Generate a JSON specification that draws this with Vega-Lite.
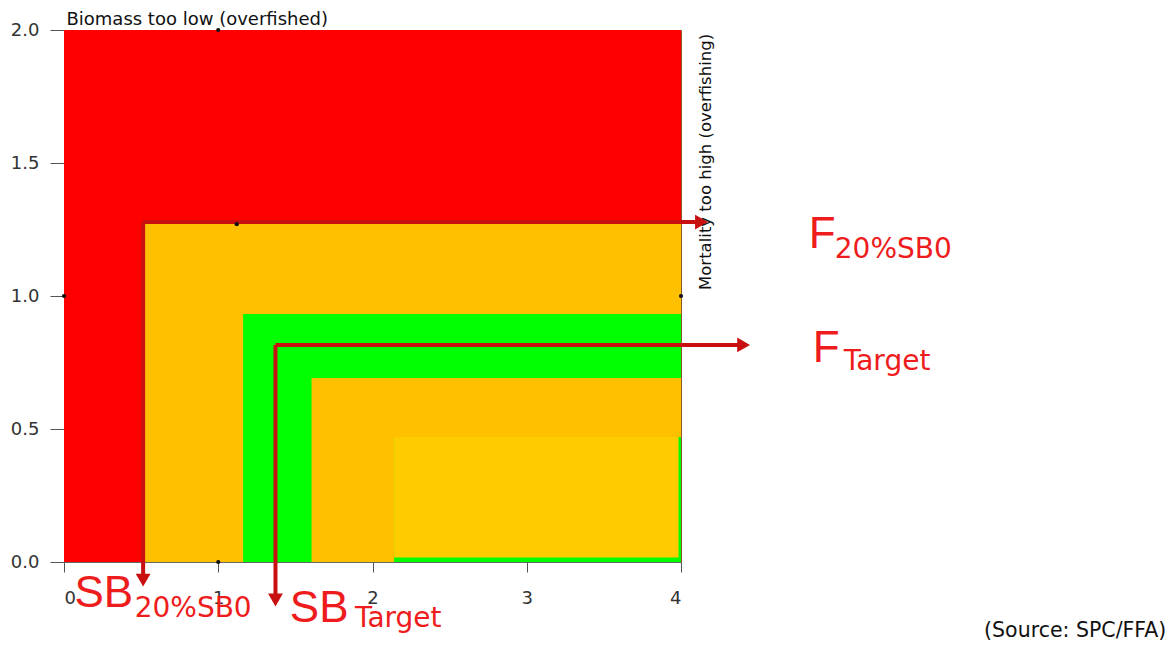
{
  "$schema": "https://vega.github.io/schema/vega-lite/v6.json",
  "width": 617,
  "height": 532,
  "autosize": "none",
  "padding": {"left": 64, "top": 30, "right": 491, "bottom": 83},
  "background": "white",
  "config": {
    "view": {"stroke": "#8b5a2b", "strokeWidth": 1},
    "axis": {"grid": false, "labelFont": "DejaVu Sans", "labelFontSize": 18, "labelColor": "#333333", "tickColor": "#555555", "domainColor": "#666666", "title": null}
  },
  "datasets": {
    "zones": [
      {"zone": "red", "i": 1, "x0": 0, "x1": 4, "y0": 0, "y1": 2},
      {"zone": "orange", "i": 2, "x0": 0.513, "x1": 4, "y0": 0, "y1": 1.278},
      {"zone": "green", "i": 3, "x0": 1.161, "x1": 4, "y0": 0, "y1": 0.932},
      {"zone": "orange", "i": 4, "x0": 1.605, "x1": 4, "y0": 0, "y1": 0.692},
      {"zone": "green", "i": 5, "x0": 2.14, "x1": 4, "y0": 0, "y1": 0.47},
      {"zone": "yellow", "i": 6, "x0": 2.14, "x1": 3.984, "y0": 0.017, "y1": 0.47}
    ],
    "arrows": [
      {"x": 0.513, "y": 1.278, "x2": 4.133, "y2": 1.278, "dir": "right"},
      {"x": 0.513, "y": 1.278, "x2": 0.513, "y2": -0.068, "dir": "down"},
      {"x": 1.371, "y": 0.816, "x2": 4.406, "y2": 0.816, "dir": "right"},
      {"x": 1.371, "y": 0.816, "x2": 1.371, "y2": -0.143, "dir": "down"}
    ],
    "dots": [
      {"x": 1, "y": 2},
      {"x": 0, "y": 1},
      {"x": 4, "y": 1},
      {"x": 1, "y": 0},
      {"x": 1.12, "y": 1.27}
    ],
    "big": [
      {"x": 4.828, "y": 1.18, "label": "F"},
      {"x": 4.854, "y": 0.752, "label": "F"},
      {"x": 0.068, "y": -0.169, "label": "SB"},
      {"x": 1.464, "y": -0.226, "label": "SB"}
    ],
    "sub": [
      {"x": 4.997, "y": 1.143, "label": "20%SB0"},
      {"x": 5.055, "y": 0.722, "label": "Target"},
      {"x": 0.458, "y": -0.207, "label": "20%SB0"},
      {"x": 1.886, "y": -0.244, "label": "Target"}
    ],
    "notes": [
      {"x": 0.016, "y": 2.019, "label": "Biomass too low (overfished)"}
    ],
    "side": [
      {"x": 4.16, "y": 1.504, "label": "Mortality too high (overfishing)"}
    ],
    "source": [
      {"x": 7.146, "y": -0.282, "label": "(Source: SPC/FFA)"}
    ]
  },
  "layer": [
    {
      "data": {"name": "zones"},
      "mark": {"type": "rect"},
      "encoding": {
        "x": {"field": "x0", "type": "quantitative", "scale": {"domain": [0, 4], "nice": false}, "axis": {"values": [0, 1, 2, 3, 4], "format": "d", "tickSize": 10, "labelPadding": 17}},
        "x2": {"field": "x1"},
        "y": {"field": "y0", "type": "quantitative", "scale": {"domain": [0, 2], "nice": false}, "axis": {"values": [0, 0.5, 1, 1.5, 2], "format": ".1f", "tickSize": 14, "labelPadding": 11}},
        "y2": {"field": "y1"},
        "color": {"field": "zone", "type": "nominal", "legend": null, "scale": {"domain": ["red", "orange", "green", "yellow"], "range": ["#ff0000", "#ffc000", "#00ff00", "#ffcc00"]}},
        "order": {"field": "i", "type": "quantitative"}
      }
    },
    {
      "data": {"name": "arrows"},
      "mark": {"type": "rule", "color": "#c81010", "strokeWidth": 4},
      "encoding": {
        "x": {"field": "x", "type": "quantitative"},
        "y": {"field": "y", "type": "quantitative"},
        "x2": {"field": "x2"},
        "y2": {"field": "y2"}
      }
    },
    {
      "data": {"name": "arrows"},
      "mark": {"type": "point", "filled": true, "color": "#c81010", "size": 220, "opacity": 1},
      "encoding": {
        "x": {"field": "x2", "type": "quantitative"},
        "y": {"field": "y2", "type": "quantitative"},
        "shape": {"field": "dir", "type": "nominal", "legend": null, "scale": {"domain": ["right", "down"], "range": ["triangle-right", "triangle-down"]}}
      }
    },
    {
      "data": {"name": "dots"},
      "mark": {"type": "point", "filled": true, "color": "#111111", "size": 18, "opacity": 1},
      "encoding": {
        "x": {"field": "x", "type": "quantitative"},
        "y": {"field": "y", "type": "quantitative"}
      }
    },
    {
      "data": {"name": "big"},
      "mark": {"type": "text", "font": "Liberation Sans", "fontSize": 44, "color": "#ee1c1c", "align": "left", "baseline": "alphabetic"},
      "encoding": {
        "x": {"field": "x", "type": "quantitative"},
        "y": {"field": "y", "type": "quantitative"},
        "text": {"field": "label"}
      }
    },
    {
      "data": {"name": "sub"},
      "mark": {"type": "text", "font": "DejaVu Sans", "fontSize": 28, "color": "#ee1c1c", "align": "left", "baseline": "alphabetic"},
      "encoding": {
        "x": {"field": "x", "type": "quantitative"},
        "y": {"field": "y", "type": "quantitative"},
        "text": {"field": "label"}
      }
    },
    {
      "data": {"name": "notes"},
      "mark": {"type": "text", "font": "DejaVu Sans", "fontSize": 18, "color": "#111111", "align": "left", "baseline": "alphabetic"},
      "encoding": {
        "x": {"field": "x", "type": "quantitative"},
        "y": {"field": "y", "type": "quantitative"},
        "text": {"field": "label"}
      }
    },
    {
      "data": {"name": "side"},
      "mark": {"type": "text", "font": "DejaVu Sans", "fontSize": 16.5, "color": "#111111", "align": "center", "baseline": "middle", "angle": 270},
      "encoding": {
        "x": {"field": "x", "type": "quantitative"},
        "y": {"field": "y", "type": "quantitative"},
        "text": {"field": "label"}
      }
    },
    {
      "data": {"name": "source"},
      "mark": {"type": "text", "font": "DejaVu Sans", "fontSize": 20.5, "color": "#111111", "align": "right", "baseline": "alphabetic"},
      "encoding": {
        "x": {"field": "x", "type": "quantitative"},
        "y": {"field": "y", "type": "quantitative"},
        "text": {"field": "label"}
      }
    }
  ]
}
